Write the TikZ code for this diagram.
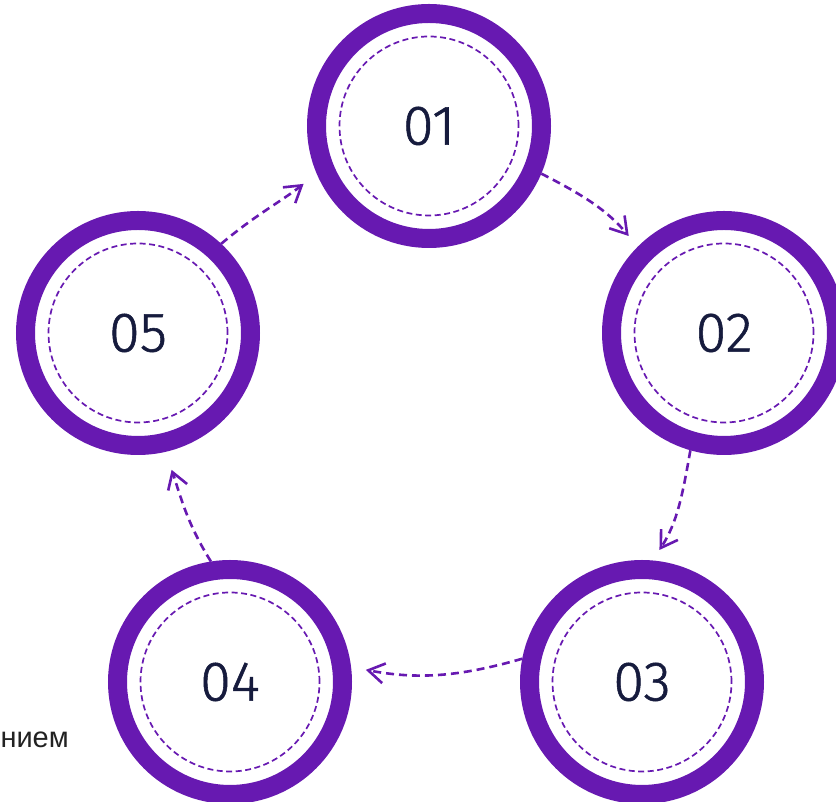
\documentclass[tikz,border=0pt]{standalone}
\usepackage{fontspec}
\setmainfont{Liberation Sans}
\newfontfamily\numfont{Fira Sans Light}[FakeBold=1]
\usetikzlibrary{arrows.meta}
\definecolor{ringpurple}{HTML}{6719B1}
\definecolor{numcol}{HTML}{161B3D}
\definecolor{txtcol}{HTML}{222222}
\begin{document}
\begin{tikzpicture}[x=1pt,y=1pt,
  ring/.style={circle, draw=ringpurple, line width=19pt, minimum size=225pt, inner sep=0pt,
    font=\numfont\fontsize{56}{56}\selectfont, text=numcol},
  innerdash/.style={draw=ringpurple, line width=1.7pt, dash pattern=on 6pt off 3.5pt},
  flow/.style={draw=ringpurple, line width=2.6pt, dash pattern=on 8pt off 5pt,
    -{Straight Barb[length=16pt,width=20pt,line width=2.6pt]}}
]
\useasboundingbox (0,0) rectangle (836,802);
\node[ring] (c1) at (429,676) {01};
\node[ring] (c2) at (724,469) {02};
\node[ring] (c3) at (642,120) {03};
\node[ring] (c4) at (230,120) {04};
\node[ring] (c5) at (138,469) {05};
\foreach \n in {c1,c2,c3,c4,c5} {
  \draw[innerdash] (\n.center) circle[radius=89.5];
}
\draw[flow, shorten >=14pt] (c1.-23) to[out=-27, in=130] (c2.135);
\draw[flow, shorten >=12.5pt] (c2.-106) to[out=-100, in=57] (c3.85);
\draw[flow, shorten >=15pt] (c3.169) to[out=196, in=-10.6] (c4.7);
\draw[flow, shorten >=19pt] (c4.99) to[out=122, in=-71] (c5.-77);
\draw[flow, shorten >=16.6pt] (c5.47) to[out=40, in=-142] (c1.203);
\node[anchor=base east, inner sep=0pt, font=\fontsize{29}{29}\selectfont, text=txtcol] (t) at (69,54) {нием};
\end{tikzpicture}
\end{document}
